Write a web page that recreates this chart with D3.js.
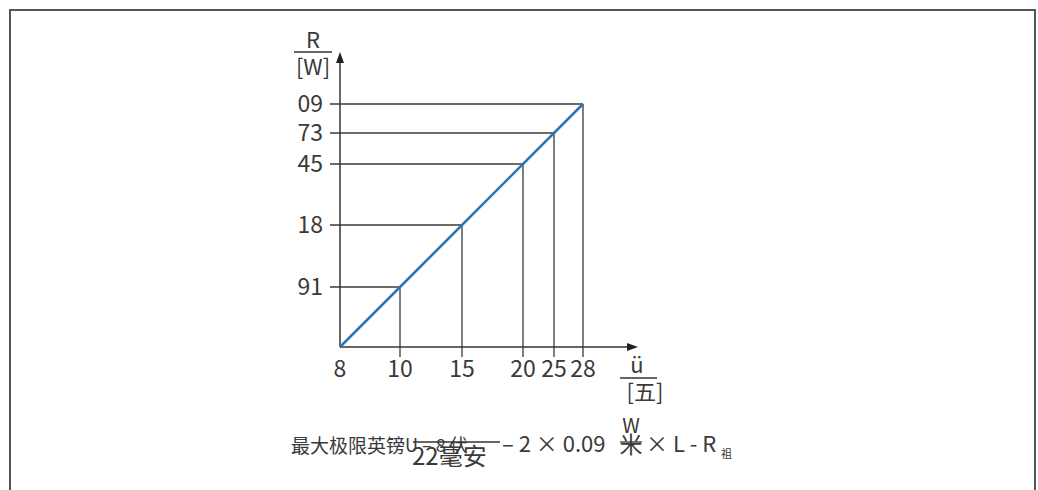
<!DOCTYPE html>
<html>
<head>
<meta charset="utf-8">
<script src="https://cdn.jsdelivr.net/npm/d3@7"></script>
<style>
  body { margin: 0; background: #fff; }
  text { font-family: "Noto Sans CJK SC", "Noto Sans", sans-serif; fill: #3a3a3a; }
</style>
</head>
<body>
<div id="graph"></div>
<script>
'use strict';

// data
var xTicks = [8, 10, 15, 20, 25, 28];
var yTicks = ["91", "18", "45", "73", "09"];   // one per x tick after the origin
var xTitle = ["ü", "[五]"];
var yTitle = ["R", "[W]"];

// layout (schematic axis, not to scale)
var x0 = 340, y0 = 347;
var xStops = [340, 400, 462, 523, 554, 583];

var svg = d3.select("#graph")
    .append("svg")
    .attr("width", 1038)
    .attr("height", 490);

// frame
svg.append("path")
    .attr("d", "M10,490V10H1035V490")
    .attr("fill", "none")
    .attr("stroke", "#555")
    .attr("stroke-width", 2);

var x = d3.scaleLinear().domain(xTicks).range(xStops);
// 45 degree line: each y label sits level with its x tick
var y = d3.scaleOrdinal()
    .domain(yTicks)
    .range(xTicks.slice(1).map(function(v) { return y0 - (x(v) - x0); }));

var points = yTicks.map(function(l, i) { return {x: xTicks[i + 1], y: l}; });

// helper lines
svg.selectAll(".hline")
    .data(points)
    .enter()
    .append("line")
    .attr("x1", x0 - 10)
    .attr("x2", function(d) { return x(d.x); })
    .attr("y1", function(d) { return y(d.y); })
    .attr("y2", function(d) { return y(d.y); })
    .attr("stroke", "#3a3a3a")
    .attr("stroke-width", 1.3);

svg.selectAll(".vline")
    .data(points)
    .enter()
    .append("line")
    .attr("x1", function(d) { return x(d.x); })
    .attr("x2", function(d) { return x(d.x); })
    .attr("y1", function(d) { return y(d.y); })
    .attr("y2", y0 + 10)
    .attr("stroke", "#3a3a3a")
    .attr("stroke-width", 1.3);

// axes
svg.append("line")
    .attr("x1", x0).attr("y1", y0).attr("x2", 630).attr("y2", y0)
    .attr("stroke", "#333").attr("stroke-width", 1.5);
svg.append("path")
    .attr("d", "M638," + y0 + "L627," + (y0 - 4) + "L627," + (y0 + 4) + "Z")
    .attr("fill", "#222");
svg.append("line")
    .attr("x1", x0).attr("y1", y0).attr("x2", x0).attr("y2", 60)
    .attr("stroke", "#333").attr("stroke-width", 1.5);
svg.append("path")
    .attr("d", "M" + x0 + ",52L" + (x0 - 4) + ",63L" + (x0 + 4) + ",63Z")
    .attr("fill", "#222");

// the blue line
var last = points[points.length - 1];
svg.append("line")
    .attr("x1", x(xTicks[0])).attr("y1", y0)
    .attr("x2", x(last.x)).attr("y2", y(last.y))
    .attr("stroke", "#2c75ba")
    .attr("stroke-width", 2.6);

// tick labels
svg.selectAll(".xlab")
    .data(xTicks)
    .enter()
    .append("text")
    .attr("x", function(d) { return x(d); })
    .attr("y", 377)
    .attr("text-anchor", "middle")
    .attr("font-size", 23)
    .text(function(d) { return d; });

svg.selectAll(".ylab")
    .data(yTicks)
    .enter()
    .append("text")
    .attr("x", 323)
    .attr("y", function(d) { return y(d) + 8; })
    .attr("text-anchor", "end")
    .attr("font-size", 23)
    .text(function(d) { return d; });

// axis titles as fractions
svg.append("text").attr("x", 313).attr("y", 48).attr("text-anchor", "middle")
    .attr("font-size", 22).text(yTitle[0]);
svg.append("line").attr("x1", 294).attr("x2", 332).attr("y1", 52).attr("y2", 52)
    .attr("stroke", "#333").attr("stroke-width", 1.3);
svg.append("text").attr("x", 313).attr("y", 75).attr("text-anchor", "middle")
    .attr("font-size", 22).text(yTitle[1]);

svg.append("text").attr("x", 637).attr("y", 373).attr("text-anchor", "middle")
    .attr("font-size", 22).text(xTitle[0]);
svg.append("line").attr("x1", 620).attr("x2", 657).attr("y1", 378).attr("y2", 378)
    .attr("stroke", "#333").attr("stroke-width", 1.3);
svg.append("text").attr("x", 645).attr("y", 400).attr("text-anchor", "middle")
    .attr("font-size", 22).text(xTitle[1]);

// formula
var f = svg.append("g");
f.append("text").attr("x", 291).attr("y", 453).attr("font-size", 19).text("最大极限英镑");
f.append("text").attr("x", 405).attr("y", 452).attr("font-size", 18).text("U – 8 伏");
f.append("line").attr("x1", 413).attr("x2", 500).attr("y1", 442).attr("y2", 442)
    .attr("stroke", "#333").attr("stroke-width", 1.3);
f.append("text").attr("x", 412).attr("y", 465).attr("font-size", 24).text("22毫安");
f.append("text").attr("x", 502).attr("y", 452).attr("font-size", 22).text("– 2 × 0.09");
f.append("text").attr("x", 631).attr("y", 433).attr("text-anchor", "middle")
    .attr("font-size", 20).text("W");
f.append("line").attr("x1", 620).attr("x2", 642).attr("y1", 442).attr("y2", 442)
    .attr("stroke", "#333").attr("stroke-width", 1.3);
f.append("text").attr("x", 631).attr("y", 453).attr("text-anchor", "middle")
    .attr("font-size", 23).text("米");
f.append("text").attr("x", 646).attr("y", 452).attr("font-size", 22).text("× L - R");
f.append("text").attr("x", 721).attr("y", 458).attr("font-size", 11).text("祖");
</script>
</body>
</html>
